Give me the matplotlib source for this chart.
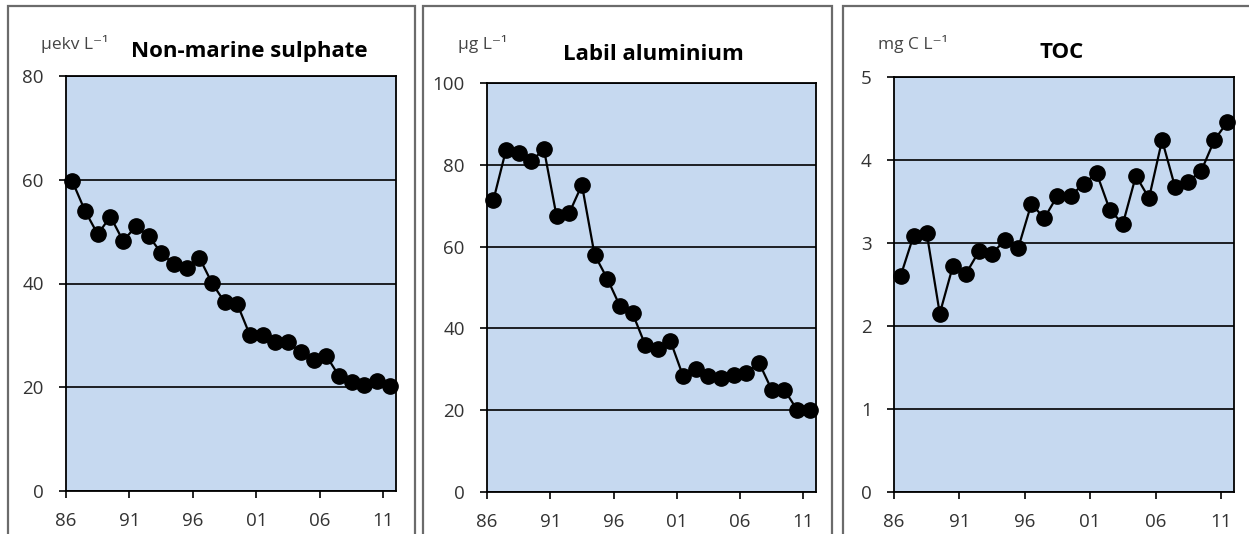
import matplotlib
matplotlib.use("Agg")
import matplotlib.pyplot as plt
from matplotlib.patches import Rectangle

plt.rcParams['font.family'] = ['Open Sans', 'DejaVu Sans']

years = list(range(1986, 2012))
year_labels = ['86', '91', '96', '01', '06', '11']

sulphate = [59.7, 54.0, 49.5, 52.9, 48.2, 51.0, 49.2, 45.9, 43.7, 42.9, 45.0, 40.1, 36.4,
            36.0, 30.0, 30.0, 28.7, 28.7, 26.7, 25.2, 26.1, 22.2, 21.1, 20.5, 21.3, 20.3]
aluminium = [71.3, 83.6, 83.0, 80.9, 83.8, 67.4, 68.2, 75.1, 58.0, 52.2, 45.5, 43.7, 36.0,
             34.9, 36.9, 28.3, 30.1, 28.3, 27.9, 28.5, 29.1, 31.6, 25.0, 25.0, 20.1, 20.0]
toc = [2.60, 3.09, 3.12, 2.15, 2.72, 2.63, 2.90, 2.87, 3.04, 2.94, 3.47, 3.30, 3.57,
       3.57, 3.71, 3.84, 3.40, 3.23, 3.81, 3.54, 4.24, 3.67, 3.74, 3.87, 4.24, 4.46]

W, H = 1249, 534
fig = plt.figure(figsize=(W / 100, H / 100), dpi=100)
fig.patch.set_facecolor('white')

# (data, ymax, ystep, title, unit, plot box px [left, right, top, bottom],
#  frame px [left, right], title centre x/y, unit left x)
panels = [
    (sulphate, 80, 20, 'Non-marine sulphate', 'µekv L⁻¹', (66, 396, 76, 491), (8, 415), (249, 52), 41),
    (aluminium, 100, 20, 'Labil aluminium', 'µg L⁻¹', (487, 816, 83, 492), (423, 832), (653, 55), 458),
    (toc, 5, 1, 'TOC', 'mg C L⁻¹', (894, 1234, 77, 492), (843, 1262), (1062, 52), 878),
]

for data, ymax, ystep, title, unit, box, frame, tpos, ux in panels:
    # outer frame round each chart
    fig.patches.append(Rectangle((frame[0] / W, -0.05), (frame[1] - frame[0]) / W,
                                 (H - 6) / H + 0.05, transform=fig.transFigure,
                                 fill=False, edgecolor='#6b6b6b', linewidth=1.6))
    l, r, t, b = box
    ax = fig.add_axes([l / W, (H - b) / H, (r - l) / W, (b - t) / H])
    ax.set_facecolor('#c6d9f0')
    x = list(range(len(data)))
    ax.plot(x, data, color='black', linewidth=1.6, marker='o', markersize=11,
            markerfacecolor='black', markeredgecolor='black', zorder=3, clip_on=False)
    ax.set_xlim(-0.5, len(data) - 0.5)
    ax.set_ylim(0, ymax)
    ax.set_xticks([-0.5 + 5 * i for i in range(len(year_labels))])
    ax.set_xticklabels(year_labels)
    yt = list(range(0, ymax + 1, ystep))
    ax.set_yticks(yt)
    ax.set_yticklabels([str(v) for v in yt])
    ax.yaxis.grid(True, color='black', linewidth=1.2)
    ax.set_axisbelow(True)
    ax.tick_params(direction='out', length=5, width=1.2, colors='black',
                   labelcolor='#333333', labelsize=13.5)
    ax.tick_params(axis='y', pad=11)
    ax.tick_params(axis='x', pad=10)
    for s in ax.spines.values():
        s.set_linewidth(1.3)
        s.set_color('black')
    fig.text(tpos[0] / W, 1 - tpos[1] / H, title, ha='center', va='center',
             fontsize=16, fontweight='bold', color='black')
    fig.text(ux / W, 1 - 44 / H, unit, ha='left', va='center',
             fontsize=12.5, color='#444444')

fig.savefig('out.png', dpi=100, facecolor='white')
